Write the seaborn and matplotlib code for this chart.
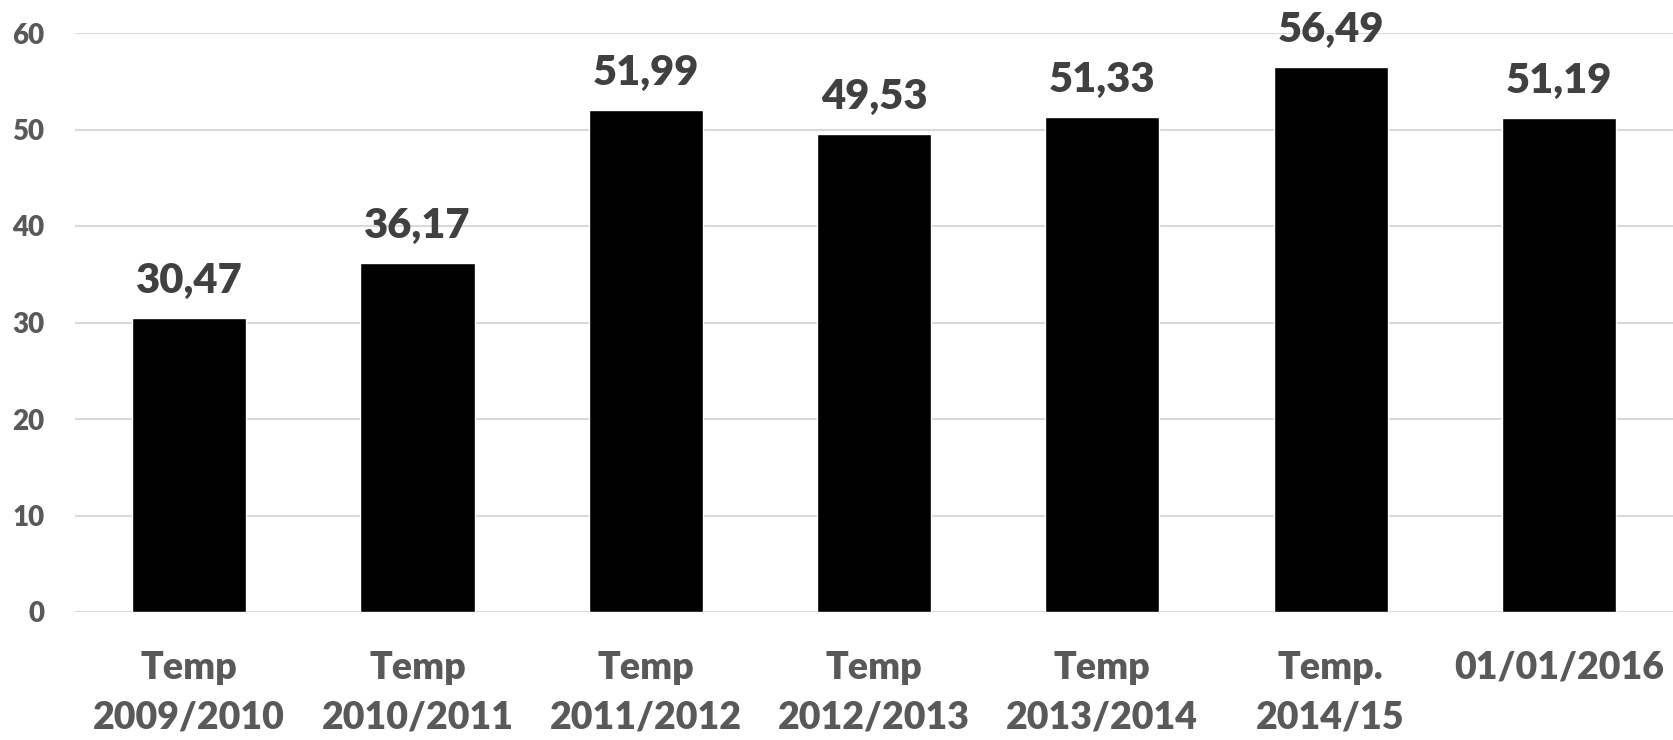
import matplotlib
matplotlib.use("Agg")
import matplotlib.pyplot as plt
import seaborn as sns
import pandas as pd

# data
categories = ["Temp\n2009/2010", "Temp\n2010/2011", "Temp\n2011/2012", "Temp\n2012/2013",
              "Temp\n2013/2014", "Temp.\n2014/15", "01/01/2016"]
values = [30.47, 36.17, 51.99, 49.53, 51.33, 56.49, 51.19]
y_ticks = [0, 10, 20, 30, 40, 50, 60]

df = pd.DataFrame({"categoria": categories, "valor": values})

sns.set_theme(style="white")
plt.rcParams["font.family"] = ["Lato", "DejaVu Sans"]

fig = plt.figure(figsize=(16.73, 7.40), dpi=100)
ax = fig.add_axes([75 / 1673, 1 - 612 / 740, 1 - 75 / 1673, (612 - 33) / 740])

sns.barplot(data=df, x="categoria", y="valor", color="black", width=0.5,
            saturation=1, ax=ax, zorder=3)

ax.set_ylim(0, 60)
ax.set_xlim(-0.5, len(categories) - 0.5)
ax.set_yticks(y_ticks)
ax.set_yticklabels([str(t) for t in y_ticks])
ax.yaxis.grid(True, color="#d9d9d9", linewidth=1.5, zorder=0)
ax.set_axisbelow(True)
for s in ax.spines.values():
    s.set_visible(False)

ax.set_xlabel("")
ax.set_ylabel("")
ax.tick_params(axis="y", length=0, pad=22, labelsize=20, labelcolor="#595959")
ax.tick_params(axis="x", length=0, pad=28, labelsize=27, labelcolor="#595959")
for lbl in ax.get_xticklabels() + ax.get_yticklabels():
    lbl.set_fontweight("heavy")
for lbl in ax.get_xticklabels():
    lbl.set_linespacing(1.55)

# value labels above the bars
for i, v in enumerate(values):
    ax.annotate(f"{v:.2f}".replace(".", ","), xy=(i, v), xytext=(0, 13),
                textcoords="offset points", ha="center", va="bottom",
                fontsize=30, fontweight="heavy", color="#404040",
                annotation_clip=False)

fig.savefig("out.png", dpi=100)
